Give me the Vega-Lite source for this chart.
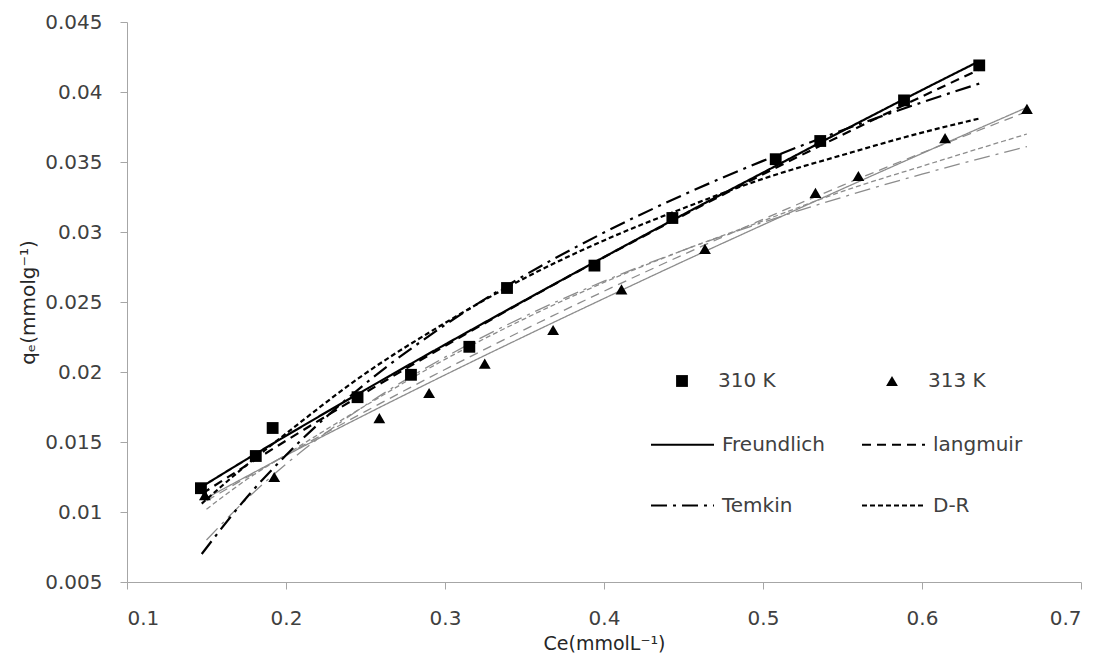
{
  "$schema": "https://vega.github.io/schema/vega-lite/v6.json",
  "width": 954,
  "height": 560,
  "autosize": {"type": "none"},
  "padding": {"left": 127, "top": 22, "right": 18, "bottom": 76},
  "background": "white",
  "config": {
    "view": {"stroke": null},
    "font": "DejaVu Sans",
    "axis": {
      "grid": false,
      "domainColor": "#a6a6a6",
      "tickColor": "#a6a6a6",
      "tickSize": 7,
      "labelFontSize": 20,
      "labelColor": "#404040",
      "titleFontSize": 20,
      "titleFontWeight": "normal",
      "titleColor": "#262626"
    },
    "legend": {"labelFontSize": 20, "labelColor": "#404040", "padding": 0}
  },
  "datasets": {
    "fits310": [
      {"model": "Freundlich", "x": 0.147, "y": 0.0118},
      {"model": "Freundlich", "x": 0.175, "y": 0.01375},
      {"model": "Freundlich", "x": 0.2, "y": 0.01544},
      {"model": "Freundlich", "x": 0.25, "y": 0.01874},
      {"model": "Freundlich", "x": 0.3, "y": 0.02196},
      {"model": "Freundlich", "x": 0.35, "y": 0.02511},
      {"model": "Freundlich", "x": 0.4, "y": 0.02821},
      {"model": "Freundlich", "x": 0.45, "y": 0.03126},
      {"model": "Freundlich", "x": 0.5, "y": 0.03424},
      {"model": "Freundlich", "x": 0.55, "y": 0.03722},
      {"model": "Freundlich", "x": 0.6, "y": 0.04014},
      {"model": "Freundlich", "x": 0.636, "y": 0.0422},
      {"model": "langmuir", "x": 0.147, "y": 0.0113},
      {"model": "langmuir", "x": 0.175, "y": 0.01332},
      {"model": "langmuir", "x": 0.2, "y": 0.01509},
      {"model": "langmuir", "x": 0.25, "y": 0.01854},
      {"model": "langmuir", "x": 0.3, "y": 0.02186},
      {"model": "langmuir", "x": 0.35, "y": 0.02508},
      {"model": "langmuir", "x": 0.4, "y": 0.02819},
      {"model": "langmuir", "x": 0.45, "y": 0.0312},
      {"model": "langmuir", "x": 0.5, "y": 0.03412},
      {"model": "langmuir", "x": 0.55, "y": 0.03694},
      {"model": "langmuir", "x": 0.6, "y": 0.03968},
      {"model": "langmuir", "x": 0.636, "y": 0.0416},
      {"model": "Temkin", "x": 0.147, "y": 0.007},
      {"model": "Temkin", "x": 0.175, "y": 0.011},
      {"model": "Temkin", "x": 0.2, "y": 0.01406},
      {"model": "Temkin", "x": 0.25, "y": 0.01918},
      {"model": "Temkin", "x": 0.3, "y": 0.02336},
      {"model": "Temkin", "x": 0.35, "y": 0.0269},
      {"model": "Temkin", "x": 0.4, "y": 0.02996},
      {"model": "Temkin", "x": 0.45, "y": 0.03266},
      {"model": "Temkin", "x": 0.5, "y": 0.03508},
      {"model": "Temkin", "x": 0.55, "y": 0.03727},
      {"model": "Temkin", "x": 0.6, "y": 0.03926},
      {"model": "Temkin", "x": 0.636, "y": 0.0406},
      {"model": "D-R", "x": 0.147, "y": 0.0106},
      {"model": "D-R", "x": 0.175, "y": 0.01334},
      {"model": "D-R", "x": 0.2, "y": 0.0156},
      {"model": "D-R", "x": 0.25, "y": 0.0199},
      {"model": "D-R", "x": 0.3, "y": 0.0235},
      {"model": "D-R", "x": 0.35, "y": 0.0267},
      {"model": "D-R", "x": 0.4, "y": 0.0294},
      {"model": "D-R", "x": 0.45, "y": 0.0317},
      {"model": "D-R", "x": 0.5, "y": 0.0338},
      {"model": "D-R", "x": 0.55, "y": 0.0355},
      {"model": "D-R", "x": 0.6, "y": 0.0371},
      {"model": "D-R", "x": 0.636, "y": 0.0381}
    ],
    "fits313": [
      {"model": "Freundlich", "x": 0.15, "y": 0.011},
      {"model": "Freundlich", "x": 0.175, "y": 0.01253},
      {"model": "Freundlich", "x": 0.2, "y": 0.01404},
      {"model": "Freundlich", "x": 0.25, "y": 0.01696},
      {"model": "Freundlich", "x": 0.3, "y": 0.01979},
      {"model": "Freundlich", "x": 0.35, "y": 0.02255},
      {"model": "Freundlich", "x": 0.4, "y": 0.02525},
      {"model": "Freundlich", "x": 0.45, "y": 0.02791},
      {"model": "Freundlich", "x": 0.5, "y": 0.03051},
      {"model": "Freundlich", "x": 0.55, "y": 0.03308},
      {"model": "Freundlich", "x": 0.6, "y": 0.03561},
      {"model": "Freundlich", "x": 0.666, "y": 0.0389},
      {"model": "langmuir", "x": 0.15, "y": 0.0108},
      {"model": "langmuir", "x": 0.175, "y": 0.01245},
      {"model": "langmuir", "x": 0.2, "y": 0.01407},
      {"model": "langmuir", "x": 0.25, "y": 0.01719},
      {"model": "langmuir", "x": 0.3, "y": 0.02018},
      {"model": "langmuir", "x": 0.35, "y": 0.02303},
      {"model": "langmuir", "x": 0.4, "y": 0.02577},
      {"model": "langmuir", "x": 0.45, "y": 0.02839},
      {"model": "langmuir", "x": 0.5, "y": 0.03091},
      {"model": "langmuir", "x": 0.55, "y": 0.03333},
      {"model": "langmuir", "x": 0.6, "y": 0.03565},
      {"model": "langmuir", "x": 0.666, "y": 0.0386},
      {"model": "Temkin", "x": 0.15, "y": 0.008},
      {"model": "Temkin", "x": 0.175, "y": 0.0109},
      {"model": "Temkin", "x": 0.2, "y": 0.01342},
      {"model": "Temkin", "x": 0.25, "y": 0.01763},
      {"model": "Temkin", "x": 0.3, "y": 0.02106},
      {"model": "Temkin", "x": 0.35, "y": 0.02397},
      {"model": "Temkin", "x": 0.4, "y": 0.02649},
      {"model": "Temkin", "x": 0.45, "y": 0.02871},
      {"model": "Temkin", "x": 0.5, "y": 0.03069},
      {"model": "Temkin", "x": 0.55, "y": 0.03249},
      {"model": "Temkin", "x": 0.6, "y": 0.03413},
      {"model": "Temkin", "x": 0.666, "y": 0.0361},
      {"model": "D-R", "x": 0.15, "y": 0.0102},
      {"model": "D-R", "x": 0.175, "y": 0.0123},
      {"model": "D-R", "x": 0.2, "y": 0.0141},
      {"model": "D-R", "x": 0.25, "y": 0.0176},
      {"model": "D-R", "x": 0.3, "y": 0.0209},
      {"model": "D-R", "x": 0.35, "y": 0.0238},
      {"model": "D-R", "x": 0.4, "y": 0.0264},
      {"model": "D-R", "x": 0.45, "y": 0.0287},
      {"model": "D-R", "x": 0.5, "y": 0.0308},
      {"model": "D-R", "x": 0.55, "y": 0.0329},
      {"model": "D-R", "x": 0.6, "y": 0.0347},
      {"model": "D-R", "x": 0.666, "y": 0.037}
    ],
    "points": [
      {"T": "310 K", "x": 0.1465, "y": 0.0117},
      {"T": "310 K", "x": 0.181, "y": 0.014},
      {"T": "310 K", "x": 0.1916, "y": 0.016},
      {"T": "310 K", "x": 0.245, "y": 0.0182},
      {"T": "310 K", "x": 0.2786, "y": 0.0198},
      {"T": "310 K", "x": 0.3153, "y": 0.0218},
      {"T": "310 K", "x": 0.339, "y": 0.026},
      {"T": "310 K", "x": 0.394, "y": 0.0276},
      {"T": "310 K", "x": 0.443, "y": 0.031},
      {"T": "310 K", "x": 0.508, "y": 0.0352},
      {"T": "310 K", "x": 0.536, "y": 0.0365},
      {"T": "310 K", "x": 0.5887, "y": 0.0394},
      {"T": "310 K", "x": 0.636, "y": 0.0419},
      {"T": "313 K", "x": 0.149, "y": 0.0112},
      {"T": "313 K", "x": 0.1926, "y": 0.0125},
      {"T": "313 K", "x": 0.2587, "y": 0.0167},
      {"T": "313 K", "x": 0.29, "y": 0.0185},
      {"T": "313 K", "x": 0.325, "y": 0.0206},
      {"T": "313 K", "x": 0.368, "y": 0.023},
      {"T": "313 K", "x": 0.411, "y": 0.0259},
      {"T": "313 K", "x": 0.4635, "y": 0.0288},
      {"T": "313 K", "x": 0.533, "y": 0.0328},
      {"T": "313 K", "x": 0.56, "y": 0.034},
      {"T": "313 K", "x": 0.6145, "y": 0.0367},
      {"T": "313 K", "x": 0.666, "y": 0.0388}
    ]
  },
  "encoding": {
    "x": {
      "field": "x", "type": "quantitative",
      "scale": {"domain": [0.1, 0.7], "nice": false, "zero": false},
      "axis": {"title": "Ce(mmolL⁻¹)", "values": [0.1, 0.2, 0.3, 0.4, 0.5, 0.6, 0.7], "format": ".1f", "labelPadding": 19, "titlePadding": 6, "titleFontSize": 19}
    },
    "y": {
      "field": "y", "type": "quantitative",
      "scale": {"domain": [0.005, 0.045], "nice": false, "zero": false},
      "axis": {"title": "qₑ(mmolg⁻¹)", "values": [0.005, 0.01, 0.015, 0.02, 0.025, 0.03, 0.035, 0.04, 0.045], "format": ".3~f", "labelPadding": 18, "titlePadding": 6}
    }
  },
  "layer": [
    {
      "data": {"name": "fits313"},
      "mark": {"type": "line", "color": "#8c8c8c", "strokeWidth": 1.3, "interpolate": "monotone"},
      "encoding": {
        "strokeDash": {
          "field": "model", "type": "nominal",
          "scale": {"domain": ["Freundlich", "langmuir", "Temkin", "D-R"], "range": [[1, 0], [9, 6], [16, 6, 3, 6], [5, 3]]},
          "legend": {
            "title": null, "orient": "none", "legendX": 523, "legendY": 390,
            "direction": "horizontal",
            "columns": 2, "symbolType": "stroke", "symbolSize": 3969,
            "symbolStrokeWidth": 2, "symbolStrokeColor": "black",
            "labelOffset": 7, "columnPadding": 33, "rowPadding": 18
          }
        }
      }
    },
    {
      "data": {"name": "fits310"},
      "mark": {"type": "line", "color": "black", "strokeWidth": 2.2, "interpolate": "monotone"},
      "encoding": {
        "strokeDash": {
          "field": "model", "type": "nominal",
          "scale": {"domain": ["Freundlich", "langmuir", "Temkin", "D-R"], "range": [[1, 0], [9, 6], [16, 6, 3, 6], [5, 3]]}
        }
      }
    },
    {
      "data": {"name": "points"},
      "mark": {"type": "point", "filled": true, "color": "black", "opacity": 1},
      "encoding": {
        "shape": {
          "field": "T", "type": "nominal",
          "scale": {"domain": ["310 K", "313 K"], "range": ["square", "triangle-up"]},
          "legend": {
            "title": null, "orient": "none", "legendX": 545, "legendY": 349,
            "direction": "horizontal",
            "columns": 2, "symbolSize": 140, "symbolFillColor": "black", "symbolStrokeColor": "black",
            "labelOffset": 26, "columnPadding": 106
          }
        },
        "size": {"value": 140}
      }
    }
  ]
}
